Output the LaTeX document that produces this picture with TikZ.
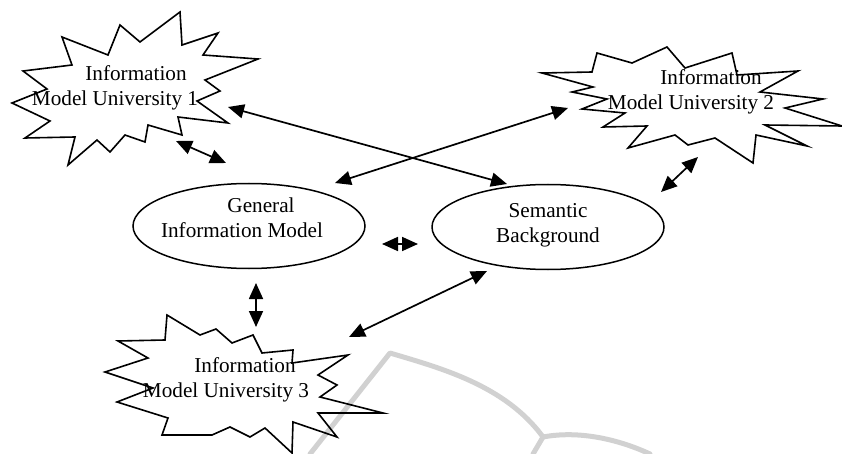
\documentclass[tikz,border=0pt]{standalone}
\usepackage{fontspec}
\setmainfont{Liberation Serif}
\usetikzlibrary{arrows.meta,shapes.geometric}
\begin{document}
\begin{tikzpicture}[x=1pt,y=-1pt,
  starline/.style={draw=black,line width=1.6pt,line join=miter},
  lbl/.style={font=\fontsize{21.2}{25}\selectfont,align=center,inner sep=0pt},
  oval/.style={ellipse,draw,line width=1.5pt,minimum width=232pt,minimum height=85pt,inner sep=0pt},
  link/.style={line width=1.7pt,{Triangle[length=16pt,width=14pt]}-{Triangle[length=16pt,width=14pt]}},
  wmline/.style={draw=black!18,line width=5pt,line join=round,line cap=round}
]
\useasboundingbox (0,0) rectangle (842,454);

% faint watermark
\draw[wmline] (310,454) -- (390,353) .. controls (440,368) and (505,385) .. (543,437);
\draw[wmline] (543,437) .. controls (580,430) and (620,440) .. (650,454);
\draw[wmline] (543,437) -- (533,454);

% star 1
\draw[starline] (180,12) -- (182,45) -- (218,33) -- (203,55) -- (258,59) -- (205,80) -- (220,91) -- (197,101) -- (228,123) -- (178,117) -- (182,135) -- (148,125) -- (145,142) -- (125,135) -- (110,152) -- (97,140) -- (68,165) -- (75,137) -- (25,138) -- (50,121) -- (12,103) -- (47,89) -- (23,71) -- (72,65) -- (62,37) -- (108,55) -- (120,25) -- (140,42) -- cycle;
\coordinate (s1) at (130,90);
\node[lbl] (s1text) at (115,88) {\hspace*{42pt}Information\\Model University 1};

% star 2
\draw[starline] (542,73) -- (592,72) -- (597,53) -- (632,63) -- (667,47) -- (685,68) -- (732,53) -- (737,75) -- (798,71) -- (760,92) -- (823,99) -- (785,108) -- (842,126) -- (765,125) -- (807,146) -- (756,135) -- (753,163) -- (715,138) -- (688,145) -- (675,135) -- (628,148) -- (647,126) -- (603,127) -- (625,113) -- (582,109) -- (607,99) -- (572,92) -- (593,87) -- cycle;
\coordinate (s2) at (700,100);
\node[lbl] (s2text) at (691,92) {\hspace*{40pt}Information\\Model University 2};

% star 3
\draw[starline] (167,315) -- (200,335) -- (216,329) -- (232,343) -- (253,335) -- (262,353) -- (293,350) -- (292,363) -- (348,355) -- (318,375) -- (337,385) -- (320,397) -- (383,413) -- (318,413) -- (337,437) -- (293,422) -- (292,453) -- (265,428) -- (250,437) -- (230,427) -- (212,435) -- (162,435) -- (168,418) -- (117,402) -- (153,388) -- (105,372) -- (148,358) -- (118,341) -- (165,340) -- cycle;
\coordinate (s3) at (240,385);
\node[lbl] (s3text) at (226,380) {\hspace*{38pt}Information\\Model University 3};

% ellipses
\node[oval] (gim) at (249,226) {};
\node[lbl] (gimtext) at (242,218) {\hspace*{38pt}General\\Information Model};
\node[oval] (sem) at (548,227) {};
\node[lbl] (semtext) at (548,225) {Semantic\\Background};

% arrow end points
\coordinate (p1a) at (228,107);
\coordinate (p1b) at (507,184);
\coordinate (p2a) at (335,183);
\coordinate (p2b) at (568,108);
\coordinate (p3a) at (176,141);
\coordinate (p3b) at (226,163);
\coordinate (p4a) at (661,192);
\coordinate (p4b) at (698,157);
\coordinate (p5a) at (382,244);
\coordinate (p5b) at (418,244);
\coordinate (p6a) at (256,283);
\coordinate (p6b) at (256,327);
\coordinate (p7a) at (349,337);
\coordinate (p7b) at (487,271);

\draw[link] (p1a) -- (p1b);
\draw[link] (p2a) -- (p2b);
\draw[link] (p3a) -- (p3b);
\draw[link] (p4a) -- (p4b);
\draw[link] (p5a) -- (p5b);
\draw[link] (p6a) -- (p6b);
\draw[link] (p7a) -- (p7b);
\end{tikzpicture}
\end{document}
